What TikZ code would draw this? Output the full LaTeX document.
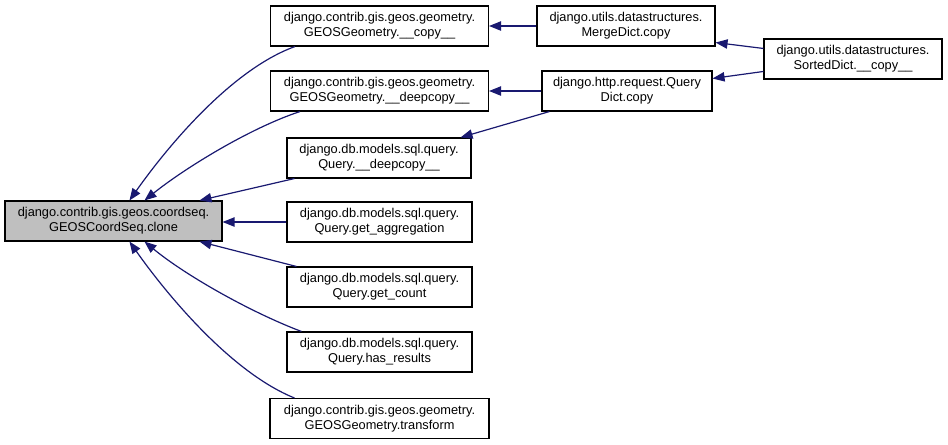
\documentclass[tikz,border=0pt]{standalone}
\usepackage{fontspec}
\setmainfont{Liberation Sans}
\usetikzlibrary{arrows.meta,calc}
\definecolor{mblue}{HTML}{191970}
\definecolor{mgray}{HTML}{BFBFBF}
\begin{document}
\begin{tikzpicture}[x=0.75pt,y=-0.75pt,
  box/.style={draw=black,line width=0.8pt,minimum height=30pt,inner sep=0pt,align=center,
    font=\fontsize{9.6}{11.2}\selectfont,minimum width=#1*0.75pt},
  edge/.style={draw=mblue,line width=0.9pt,{Triangle[length=9pt,width=7pt]}-}]
\useasboundingbox (0,0) rectangle (948,444);
\node[box=217,fill=mgray] (main) at (113.5,221) {django.contrib.gis.geos.coordseq.\\GEOSCoordSeq.clone};
\node[box=218] (c1) at (379.5,26) {django.contrib.gis.geos.geometry.\\GEOSGeometry.\_\_copy\_\_};
\node[box=218] (c2) at (379.5,91) {django.contrib.gis.geos.geometry.\\GEOSGeometry.\_\_deepcopy\_\_};
\node[box=184] (c3) at (379,158) {django.db.models.sql.query.\\Query.\_\_deepcopy\_\_};
\node[box=185] (c4) at (379.5,222) {django.db.models.sql.query.\\Query.get\_aggregation};
\node[box=185] (c5) at (379.5,287) {django.db.models.sql.query.\\Query.get\_count};
\node[box=185] (c6) at (379.5,352) {django.db.models.sql.query.\\Query.has\_results};
\node[box=219] (c7) at (379.5,418.5) {django.contrib.gis.geos.geometry.\\GEOSGeometry.transform};
\node[box=178] (m1) at (626,26) {django.utils.datastructures.\\MergeDict.copy};
\node[box=170] (m2) at (627,91) {django.http.request.Query\\Dict.copy};
\node[box=178] (s) at (853,59) {django.utils.datastructures.\\SortedDict.\_\_copy\_\_};
% edges
\draw[edge] ($(main.north west)+(125,0)$) .. controls (165,150) and (230,70) .. ($(c1.south west)+(25,0)$);
\draw[edge] ($(main.north west)+(140,0)$) .. controls (185,168) and (250,128) .. ($(c2.south west)+(30,0)$);
\draw[edge] ($(main.north west)+(195,0)$) -- ($(c3.south west)+(8,0)$);
\draw[edge] (main.east|-c4.west) -- (c4.west);
\draw[edge] ($(main.south west)+(195,0)$) -- ($(c5.north west)+(10,0)$);
\draw[edge] ($(main.south west)+(140,0)$) .. controls (185,275) and (250,312) .. ($(c6.north west)+(15,0)$);
\draw[edge] ($(main.south west)+(125,0)$) .. controls (165,292) and (230,372) .. ($(c7.north west)+(25,0)$);
\draw[edge] (c1.east) -- (m1.west);
\draw[edge] (c2.east) -- (m2.west);
\draw[edge] ($(c3.north east)+(-11,0)$) -- ($(m2.south west)+(8,0)$);
\draw[edge] ($(m1.south east)+(0,-4)$) -- ($(s.north west)+(0,10)$);
\draw[edge] ($(m2.north east)+(0,8)$) -- ($(s.north west)+(0,33)$);
\end{tikzpicture}
\end{document}
